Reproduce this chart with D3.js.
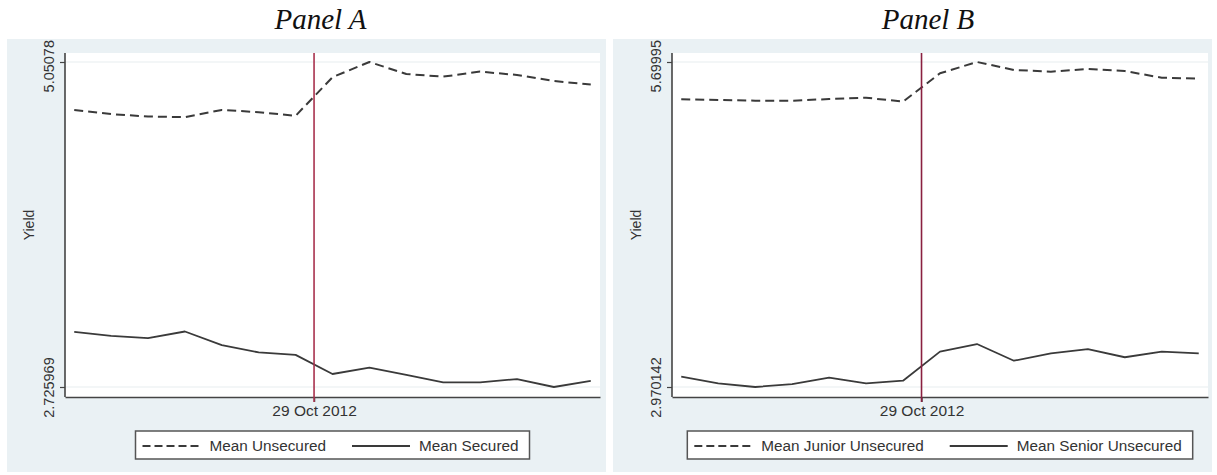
<!DOCTYPE html>
<html>
<head>
<meta charset="utf-8">
<script src="https://cdn.jsdelivr.net/npm/d3@7"></script>
<style>
  html, body { margin: 0; padding: 0; background: #ffffff; }
  svg { display: block; }
  text { font-family: "Liberation Sans", Arial, sans-serif; fill: #333333; }
  .title { font-family: "Liberation Serif", "Times New Roman", serif; font-style: italic; fill: #111111; }
</style>
</head>
<body>
<svg id="chart" width="1217" height="475"></svg>
<script>
// Weekly observation index (event falls between weeks 7 and 8)
const periods = [1, 2, 3, 4, 5, 6, 7, 8, 9, 10, 11, 12, 13, 14, 15];
const eventPeriod = 7.5;
const eventLabel = "29 Oct 2012";

// Panel A: mean yields, unsecured vs secured
const meanUnsecured = [4.708, 4.678, 4.661, 4.656, 4.708, 4.692, 4.666, 4.942, 5.05078, 4.965, 4.946, 4.982, 4.958, 4.915, 4.889];
const meanSecured   = [3.120, 3.092, 3.075, 3.123, 3.025, 2.973, 2.956, 2.819, 2.864, 2.812, 2.759, 2.759, 2.783, 2.725969, 2.769];
const ticksA = [2.725969, 5.05078];

// Panel B: mean yields, junior vs senior unsecured
const meanJuniorUnsecured = [5.387, 5.381, 5.375, 5.375, 5.389, 5.400, 5.367, 5.605, 5.69995, 5.633, 5.619, 5.641, 5.624, 5.568, 5.560];
const meanSeniorUnsecured = [3.057, 3.001, 2.970142, 2.995, 3.048, 3.001, 3.023, 3.267, 3.331, 3.191, 3.253, 3.289, 3.220, 3.267, 3.253];
const ticksB = [2.970142, 5.69995];

const svg = d3.select("#chart");

function drawPanel(cfg) {
  const g = svg.append("g");
  const regionTop = 39;

  // outer graph region
  g.append("rect")
    .attr("x", cfg.bgX).attr("y", regionTop)
    .attr("width", cfg.bgW).attr("height", 433)
    .attr("fill", "#eaf1f4");

  const plotT = 53, plotB = 397;

  // plot region
  g.append("rect")
    .attr("x", cfg.left).attr("y", plotT)
    .attr("width", cfg.right - cfg.left).attr("height", plotB - plotT)
    .attr("fill", "#ffffff");

  const x = d3.scaleLinear().domain([0.75, 15.25]).range([cfg.left, cfg.right]);
  const y = d3.scaleLinear().domain([cfg.ticks[0], cfg.ticks[1]]).range([387, 62]);

  // grid lines at labelled values
  g.selectAll("line.grid").data(cfg.ticks).join("line")
    .attr("class", "grid")
    .attr("x1", cfg.left).attr("x2", cfg.right)
    .attr("y1", d => y(d)).attr("y2", d => y(d))
    .attr("stroke", "#e8eef0").attr("stroke-width", 1.2);

  const line = d3.line().x((d, i) => x(periods[i])).y(d => y(d));

  g.append("path").datum(cfg.dashed)
    .attr("d", line).attr("fill", "none")
    .attr("stroke", "#3a3a3a").attr("stroke-width", 2)
    .attr("stroke-dasharray", "9,5")
    .attr("stroke-linejoin", "round");

  g.append("path").datum(cfg.solid)
    .attr("d", line).attr("fill", "none")
    .attr("stroke", "#3a3a3a").attr("stroke-width", 1.8)
    .attr("stroke-linejoin", "round");

  // x axis
  const xAxis = d3.axisBottom(x)
    .tickValues([eventPeriod])
    .tickFormat(() => eventLabel)
    .tickSizeInner(5).tickSizeOuter(0).tickPadding(3);
  const gx = g.append("g").attr("transform", `translate(0,${plotB})`).call(xAxis);
  gx.select(".domain").attr("stroke", "#444444").attr("stroke-width", 1.6);
  gx.selectAll(".tick line").attr("stroke", "#444444").attr("stroke-width", 1.4);
  gx.selectAll(".tick text").attr("font-size", 15.5).attr("fill", "#333333")
    .attr("font-family", "Liberation Sans, Arial, sans-serif");

  // y axis
  const yAxis = d3.axisLeft(y)
    .tickValues(cfg.ticks)
    .tickFormat(d => String(d))
    .tickSizeInner(5).tickSizeOuter(0);
  const gy = g.append("g").attr("transform", `translate(${cfg.left},0)`).call(yAxis);
  gy.select(".domain").remove();
  gy.selectAll(".tick line").attr("stroke", "#444444").attr("stroke-width", 1.2);
  gy.selectAll(".tick text")
    .attr("transform", "rotate(-90)")
    .attr("x", 0).attr("y", -11).attr("dy", 0)
    .attr("text-anchor", "middle")
    .attr("font-size", 14.5).attr("fill", "#333333")
    .attr("font-family", "Liberation Sans, Arial, sans-serif");
  // keep rotated labels inside the graph region
  gy.selectAll(".tick").each(function () {
    const tick = d3.select(this);
    const text = tick.select("text");
    const len = text.node().getComputedTextLength();
    const ty = +tick.attr("transform").match(/,\s*([-\d.]+)/)[1];
    const top = ty - len / 2;
    if (top < regionTop + 1) text.attr("x", -((regionTop + 1) - top));
  });
  g.append("line")
    .attr("x1", cfg.left).attr("x2", cfg.left)
    .attr("y1", plotT).attr("y2", plotB)
    .attr("stroke", "#444444").attr("stroke-width", 1.6);

  // event line
  g.append("line")
    .attr("x1", x(eventPeriod)).attr("x2", x(eventPeriod))
    .attr("y1", plotT).attr("y2", plotB + 5)
    .attr("stroke", cfg.eventColor).attr("stroke-width", 1.6);

  // axis title
  g.append("text")
    .attr("transform", `translate(${cfg.left - 31},${(plotT + plotB) / 2}) rotate(-90)`)
    .attr("text-anchor", "middle")
    .attr("font-size", 14).attr("fill", "#555555")
    .text("Yield");

  // panel title
  g.append("text").attr("class", "title")
    .attr("x", (cfg.left + cfg.right) / 2 - 12).attr("y", 29)
    .attr("text-anchor", "middle")
    .attr("font-size", 29)
    .text(cfg.title);

  // legend
  const legY = 431, legH = 28, pad = 7, sampleLen = 58, sampleGap = 9, itemGap = 26;
  const leg = g.append("g");
  const box = leg.append("rect")
    .attr("y", legY).attr("height", legH)
    .attr("fill", "#ffffff").attr("stroke", "#555555").attr("stroke-width", 1.5);
  let cx = 0;
  const items = [
    { label: cfg.labels[0], dash: "8,4" },
    { label: cfg.labels[1], dash: null }
  ];
  const itemG = leg.append("g");
  items.forEach((it, i) => {
    if (i > 0) cx += itemGap;
    const ln = itemG.append("line")
      .attr("x1", cx).attr("x2", cx + sampleLen)
      .attr("y1", legY + legH / 2 + 1).attr("y2", legY + legH / 2 + 1)
      .attr("stroke", "#3a3a3a").attr("stroke-width", 1.8);
    if (it.dash) ln.attr("stroke-dasharray", it.dash);
    cx += sampleLen + sampleGap;
    const t = itemG.append("text")
      .attr("x", cx).attr("y", legY + legH / 2 + 6)
      .attr("font-size", 15.3).attr("fill", "#333333")
      .text(it.label);
    cx += t.node().getComputedTextLength();
  });
  const boxW = cx + pad * 2 + 4;
  const boxX = (cfg.left + cfg.right) / 2 - boxW / 2;
  box.attr("x", boxX).attr("width", boxW);
  itemG.attr("transform", `translate(${boxX + pad},0)`);
}

drawPanel({
  title: "Panel A",
  bgX: 7, bgW: 599, left: 65, right: 600,
  ticks: ticksA,
  dashed: meanUnsecured, solid: meanSecured,
  labels: ["Mean Unsecured", "Mean Secured"],
  eventColor: "#a8324e"
});

drawPanel({
  title: "Panel B",
  bgX: 613, bgW: 599, left: 672, right: 1208,
  ticks: ticksB,
  dashed: meanJuniorUnsecured, solid: meanSeniorUnsecured,
  labels: ["Mean Junior Unsecured", "Mean Senior Unsecured"],
  eventColor: "#8a2040"
});
</script>
</body>
</html>
